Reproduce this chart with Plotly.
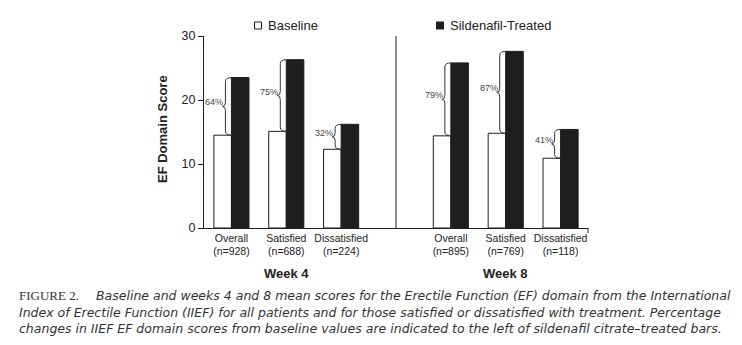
import plotly.graph_objects as go

# Group positions on a numeric axis (gap at 3 separates the two weeks)
positions = [0, 1, 2, 4, 5, 6]
tick_labels = [
    "Overall<br>(n=928)", "Satisfied<br>(n=688)", "Dissatisfied<br>(n=224)",
    "Overall<br>(n=895)", "Satisfied<br>(n=769)", "Dissatisfied<br>(n=118)",
]
baseline = [14.5, 15.1, 12.3, 14.4, 14.8, 10.9]
treated = [23.5, 26.3, 16.2, 25.8, 27.6, 15.4]
pct_change = ["64%", "75%", "32%", "79%", "87%", "41%"]
weeks = ["Week 4", "Week 8"]
week_centers = [1, 5]

W, H = 742, 345
L, R, T, B = 204, 154, 36, 117
X_RANGE = [-0.5, 6.5]
Y_RANGE = [0, 30]
px_x = (X_RANGE[1] - X_RANGE[0]) / (W - L - R)   # data units per pixel (x)
px_y = (Y_RANGE[1] - Y_RANGE[0]) / (H - T - B)   # data units per pixel (y)

INK = "#1e1e1e"
TEXT = "#222222"

fig = go.Figure()
fig.add_bar(x=positions, y=baseline, name="Baseline",
            marker=dict(color="white", line=dict(color=INK, width=1)),
            showlegend=False)
fig.add_bar(x=positions, y=treated, name="Sildenafil-Treated",
            marker=dict(color=INK, line=dict(color=INK, width=1)),
            showlegend=False)


def brace_path(xc, y0, y1):
    """Left-pointing curly brace spanning y0..y1 with tips at xc."""
    xs = xc - 6 * px_x
    xp = xc - 9 * px_x
    r = 4 * px_y
    ym = (y0 + y1) / 2
    return (f"M {xc},{y1} Q {xs},{y1} {xs},{y1 - r} "
            f"L {xs},{ym + r} Q {xs},{ym} {xp},{ym} "
            f"Q {xs},{ym} {xs},{ym - r} "
            f"L {xs},{y0 + r} Q {xs},{y0} {xc},{y0}")


shapes = []
annotations = []
for xc, b, t, p in zip(positions, baseline, treated, pct_change):
    shapes.append(dict(type="path", xref="x", yref="y", path=brace_path(xc, b, t),
                       line=dict(color="#333333", width=1)))
    annotations.append(dict(x=xc - 7 * px_x, y=(b + t) / 2, xref="x", yref="y",
                            text=p, showarrow=False, xanchor="right", yanchor="middle",
                            yshift=4, borderpad=0,
                            font=dict(family="Arial, Liberation Sans", size=9,
                                      color="#444444")))

# divider between week 4 and week 8 groups
shapes.append(dict(type="line", xref="x", yref="y", x0=3, x1=3, y0=Y_RANGE[0], y1=Y_RANGE[1],
                   line=dict(color=INK, width=1)))
# small closing tick at the right end of the x axis
shapes.append(dict(type="line", xref="paper", yref="paper", x0=1, x1=1, y0=0, y1=-5 / 192,
                   line=dict(color=INK, width=1)))

# legend keys
def px2paper_x(p):
    return (p - L) / (W - L - R)


def px2paper_y(p):
    return (H - B - p) / (H - T - B)


shapes.append(dict(type="rect", xref="paper", yref="paper",
                   x0=px2paper_x(254.5), x1=px2paper_x(261.5),
                   y0=px2paper_y(29), y1=px2paper_y(22),
                   fillcolor="white", line=dict(color=INK, width=1)))
shapes.append(dict(type="rect", xref="paper", yref="paper",
                   x0=px2paper_x(436), x1=px2paper_x(444),
                   y0=px2paper_y(29.5), y1=px2paper_y(21.5),
                   fillcolor=INK, line=dict(color=INK, width=0)))
annotations.append(dict(x=px2paper_x(266), y=px2paper_y(25.5), xref="paper", yref="paper",
                        text="Baseline", showarrow=False, xanchor="left", yanchor="middle",
                        font=dict(family="Arial, Liberation Sans", size=13, color=TEXT)))
annotations.append(dict(x=px2paper_x(447.5), y=px2paper_y(25.5), xref="paper", yref="paper",
                        text="Sildenafil-Treated", showarrow=False, xanchor="left",
                        yanchor="middle",
                        font=dict(family="Arial, Liberation Sans", size=13, color=TEXT)))

# week labels under each group
for wk, wc in zip(weeks, week_centers):
    annotations.append(dict(x=wc, y=px2paper_y(273), xref="x", yref="paper", text=f"<b>{wk}</b>",
                            showarrow=False, xanchor="center", yanchor="middle",
                            font=dict(family="Arial, Liberation Sans", size=13, color=TEXT)))

# y-axis title
annotations.append(dict(x=px2paper_x(162), y=px2paper_y(129), xref="paper", yref="paper",
                        text="<b>EF Domain Score</b>", textangle=-90, showarrow=False,
                        xanchor="center", yanchor="middle",
                        font=dict(family="Arial, Liberation Sans", size=13, color=TEXT)))

# figure caption
caption_lines = [
    "Baseline and weeks 4 and 8 mean scores for the Erectile Function (EF) domain from the International",
    "Index of Erectile Function (IIEF) for all patients and for those satisfied or dissatisfied with treatment. Percentage",
    "changes in IIEF EF domain scores from baseline values are indicated to the left of sildenafil citrate–treated bars.",
]
cap_font = dict(family="DejaVu Sans", size=12.5, color="#333333", style="italic")
annotations.append(dict(x=px2paper_x(17), y=px2paper_y(295.5), xref="paper", yref="paper",
                        text="FIGURE 2.", showarrow=False, xanchor="left", yanchor="middle",
                        font=dict(family="Liberation Serif", size=13, color="#333333")))
for i, (line, xstart) in enumerate(zip(caption_lines, [94, 17, 17])):
    annotations.append(dict(x=px2paper_x(xstart), y=px2paper_y(295.5 + 16.5 * i),
                            xref="paper", yref="paper", text=line, showarrow=False,
                            xanchor="left", yanchor="middle", font=cap_font))

fig.update_layout(
    width=W, height=H,
    margin=dict(l=L, r=R, t=T, b=B, pad=0),
    paper_bgcolor="white", plot_bgcolor="white",
    barmode="group", bargap=0.36, bargroupgap=0,
    shapes=shapes, annotations=annotations,
    font=dict(family="Arial, Liberation Sans", color=TEXT),
)
fig.update_xaxes(range=X_RANGE, tickvals=positions, ticktext=tick_labels,
                 showline=True, linecolor=INK, linewidth=1, showgrid=False, zeroline=False,
                 ticks="", tickfont=dict(size=10.5, color=TEXT))
fig.update_yaxes(range=Y_RANGE, tickvals=[0, 10, 20, 30], showline=True, linecolor=INK,
                 linewidth=1, showgrid=False, zeroline=False, ticks="outside", ticklen=5,
                 tickcolor=INK, tickfont=dict(size=12.5, color=TEXT))

fig.write_html("out.html")
